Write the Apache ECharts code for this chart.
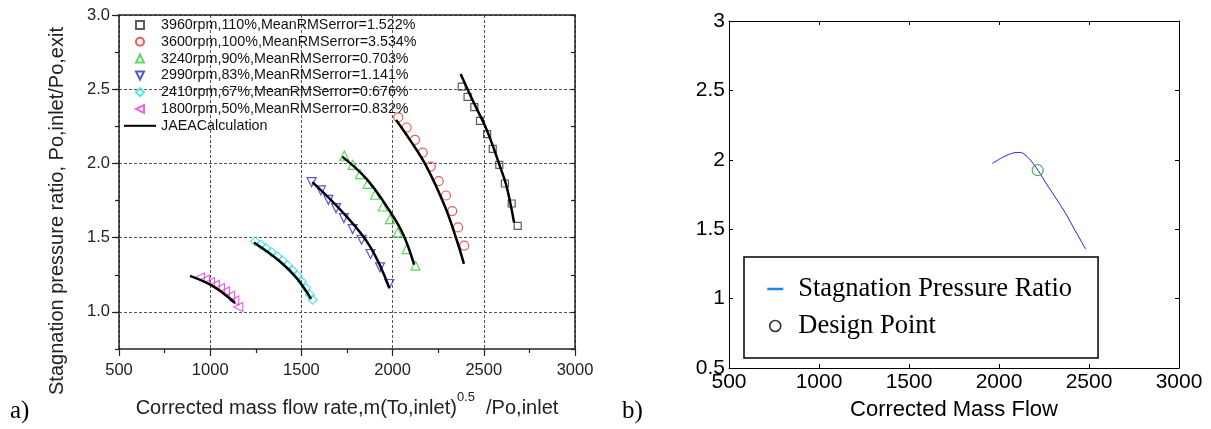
<!DOCTYPE html>
<html><head><meta charset="utf-8">
<script src="https://cdn.jsdelivr.net/npm/echarts@6/dist/echarts.min.js"></script>
<style>html,body{margin:0;padding:0;background:#fff}#c{width:1211px;height:429px}</style>
</head><body><div id="c"></div>
<script>
// ---------- data ----------
const yLabelsA = [1.0, 1.5, 2.0, 2.5, 3.0];
const names = [
  '3960rpm,110%,MeanRMSerror=1.522%',
  '3600rpm,100%,MeanRMSerror=3.534%',
  '3240rpm,90%,MeanRMSerror=0.703%',
  '2990rpm,83%,MeanRMSerror=1.141%',
  '2410rpm,67%,MeanRMSerror=0.676%',
  '1800rpm,50%,MeanRMSerror=0.832%'
];
const calcName = 'JAEACalculation';
const exp3960 = [[2379,2.517],[2411,2.448],[2448,2.379],[2479,2.287],[2518,2.197],[2549,2.098],[2585,1.991],[2616,1.865],[2653,1.730],[2686,1.580]];
const exp3600 = [[2031,2.311],[2077,2.242],[2123,2.159],[2165,2.073],[2209,1.979],[2253,1.881],[2293,1.784],[2327,1.679],[2359,1.569],[2393,1.447]];
const exp3240 = [[1735,2.053],[1781,1.991],[1821,1.928],[1863,1.863],[1904,1.789],[1946,1.710],[1986,1.625],[2028,1.535],[2077,1.423],[2126,1.311]];
const exp2990 = [[1556,1.874],[1607,1.818],[1648,1.755],[1690,1.699],[1733,1.632],[1781,1.558],[1830,1.486],[1879,1.390],[1931,1.300],[1982,1.188]];
const exp2410 = [[1246,1.475],[1277,1.452],[1306,1.430],[1337,1.403],[1368,1.374],[1397,1.345],[1425,1.313],[1452,1.279],[1478,1.244],[1502,1.205],[1525,1.161],[1547,1.116],[1562,1.082]];
const exp1800 = [[944,1.232],[971,1.217],[999,1.201],[1026,1.183],[1054,1.161],[1081,1.138],[1109,1.109],[1132,1.077],[1154,1.033]];
const calc3960 = [[2373,2.603],[2442,2.417],[2516,2.226],[2589,1.979],[2625,1.845],[2666,1.602]];
const calc3600 = [[2019,2.293],[2095,2.159],[2186,1.979],[2287,1.710],[2351,1.486],[2391,1.324]];
const calc3240 = [[1724,2.046],[1858,1.894],[1986,1.676],[2059,1.520],[2118,1.318]];
const calc2990 = [[1560,1.874],[1730,1.666],[1876,1.441],[1982,1.161]];
const calc2410 = [[1240,1.468],[1383,1.340],[1474,1.228],[1553,1.087]];
const calc1800 = [[889,1.243],[1017,1.172],[1136,1.060]];
// right chart
const flowX = [1962,2027,2082,2119,2166,2216,2268,2323,2370,2416,2453,2481];
const flowY = [1.974,2.022,2.050,2.053,2.010,1.926,1.818,1.710,1.614,1.506,1.422,1.357];
const designPoint = [2215, 1.925];

// ---------- styles ----------
const downTri = 'path://M0,0L10,0L5,10Z';
const leftTri = 'path://M0,5L10,0L10,10Z';
const expStyles = [
  {symbol:'rect', size:7, color:'#333'},
  {symbol:'circle', size:9, color:'#e83030'},
  {symbol:'triangle', size:9, color:'#33cc33'},
  {symbol:downTri, size:9, color:'#2a2ad0'},
  {symbol:'diamond', size:9, color:'#30dede'},
  {symbol:leftTri, size:9, color:'#e040e0'}
];
const expData = [exp3960, exp3600, exp3240, exp2990, exp2410, exp1800];
const calcData = [calc3960, calc3600, calc3240, calc2990, calc2410, calc1800];

const sans = 'Liberation Sans, Arial, sans-serif';
const serif = 'Liberation Serif, Times New Roman, serif';
const plain = v => String(v);

const series = [];
expData.forEach((d, i) => {
  const s = expStyles[i];
  series.push({
    name: names[i], type: 'scatter', xAxisIndex: 0, yAxisIndex: 0,
    data: d, symbol: s.symbol, symbolSize: s.size,
    itemStyle: {color: 'rgba(255,255,255,0)', borderColor: s.color, borderWidth: 1.2},
    z: 3
  });
});
calcData.forEach(d => {
  series.push({
    name: calcName, type: 'line', xAxisIndex: 0, yAxisIndex: 0,
    data: d, smooth: 0.4, symbol: 'none', showSymbol: false,
    lineStyle: {color: '#000', width: 2.5}, itemStyle: {color: '#000'}, z: 4
  });
});
series.push({
  name: 'Stagnation Pressure Ratio', type: 'line', xAxisIndex: 2, yAxisIndex: 3,
  data: flowX.map((x, i) => [x, flowY[i]]), smooth: 0.3, symbol: 'none', showSymbol: false,
  lineStyle: {color: '#2020f0', width: 1}, itemStyle: {color: '#2020f0'}
});
series.push({
  name: 'Design Point', type: 'scatter', xAxisIndex: 2, yAxisIndex: 3,
  data: [designPoint], symbol: 'circle', symbolSize: 11,
  itemStyle: {color: 'rgba(255,255,255,0)', borderColor: '#2a9a2a', borderWidth: 1.2}, z: 5
});

const gridDash = {color: '#555', type: [3, 2], width: 1};
const blackLine = {lineStyle: {color: '#222', width: 1.5}};

const option = {
  animation: false,
  backgroundColor: '#fff',
  grid: [
    {left: 119, top: 15, width: 456, height: 334},
    {left: 729, top: 21, width: 450, height: 347}
  ],
  xAxis: [
    {gridIndex: 0, type: 'value', min: 500, max: 3000, interval: 500, position: 'bottom',
     axisLine: blackLine,
     axisTick: {show: true, inside: false, length: 7, lineStyle: {color: '#222', width: 1.2}},
     minorTick: {show: true, splitNumber: 2, length: 4, lineStyle: {color: '#222', width: 1.2}},
     axisLabel: {margin: 13, fontSize: 16.5, color: '#222', fontFamily: sans, formatter: plain},
     splitLine: {show: true, lineStyle: gridDash},
     name: '{m|Corrected mass flow rate,m(To,inlet)}{s|0.5}{m|  /Po,inlet}',
     nameLocation: 'middle', nameGap: 42,
     nameTextStyle: {fontFamily: sans, color: '#222',
       rich: {m: {fontSize: 20, fontFamily: sans, color: '#222', lineHeight: 27, verticalAlign: 'bottom'},
              s: {fontSize: 13, fontFamily: sans, color: '#222', lineHeight: 15, verticalAlign: 'top'}}}
    },
    {gridIndex: 0, type: 'value', min: 500, max: 3000, interval: 500, position: 'top',
     axisLine: blackLine, axisTick: {show: false}, axisLabel: {show: false}, splitLine: {show: false}},
    {gridIndex: 1, type: 'value', min: 500, max: 3000, interval: 500, position: 'bottom',
     axisLine: {lineStyle: {color: '#000', width: 1}},
     axisTick: {show: true, inside: true, length: 4, lineStyle: {color: '#000'}},
     axisLabel: {margin: 4, fontSize: 21, color: '#000', fontFamily: sans, formatter: plain},
     splitLine: {show: false},
     name: 'Corrected Mass Flow', nameLocation: 'middle', nameGap: 31,
     nameTextStyle: {fontSize: 22, color: '#000', fontFamily: sans}
    },
    {gridIndex: 1, type: 'value', min: 500, max: 3000, interval: 500, position: 'top',
     axisLine: {lineStyle: {color: '#000', width: 1}},
     axisTick: {show: true, inside: true, length: 4, lineStyle: {color: '#000'}},
     axisLabel: {show: false}, splitLine: {show: false}}
  ],
  yAxis: [
    {gridIndex: 0, type: 'value', min: 0.75, max: 3.0, interval: 0.25, position: 'left',
     axisLine: blackLine,
     axisTick: {show: true, inside: false, length: 7, customValues: yLabelsA, lineStyle: {color: '#222', width: 1.2}},
     axisLabel: {margin: 9, fontSize: 16.5, color: '#222', fontFamily: sans, customValues: yLabelsA,
                 formatter: v => Number(v).toFixed(1)},
     splitLine: {show: true, lineStyle: gridDash}
    },
    {gridIndex: 0, type: 'value', min: 0.75, max: 3.0, interval: 0.25, position: 'left', offset: 0,
     axisLine: {show: false},
     axisTick: {show: true, inside: false, length: 4, lineStyle: {color: '#222', width: 1.2}},
     axisLabel: {show: false}, splitLine: {show: false}},
    {gridIndex: 0, type: 'value', min: 0.75, max: 3.0, interval: 0.25, position: 'right',
     axisLine: blackLine,
     axisTick: {show: true, inside: true, length: 4, lineStyle: {color: '#222', width: 1.2}},
     axisLabel: {show: false}, splitLine: {show: false}},
    {gridIndex: 1, type: 'value', min: 0.5, max: 3.0, interval: 0.5, position: 'left',
     axisLine: {lineStyle: {color: '#000', width: 1}},
     axisTick: {show: true, inside: true, length: 4, lineStyle: {color: '#000'}},
     axisLabel: {margin: 4, fontSize: 21, color: '#000', fontFamily: sans, formatter: plain},
     splitLine: {show: false}},
    {gridIndex: 1, type: 'value', min: 0.5, max: 3.0, interval: 0.5, position: 'right',
     axisLine: {lineStyle: {color: '#000', width: 1}},
     axisTick: {show: true, inside: true, length: 4, lineStyle: {color: '#000'}},
     axisLabel: {show: false}, splitLine: {show: false}}
  ],
  legend: [
    {data: names, orient: 'vertical', left: 135, top: 17, padding: 0,
     itemWidth: 8, itemHeight: 8, itemGap: 0.8,
     textStyle: {fontSize: 14.3, lineHeight: 16, color: '#111', fontFamily: sans, padding: [0, 0, 0, 12]},
     selectedMode: false},
    {data: [{name: calcName, itemStyle: {opacity: 0}}], orient: 'vertical', left: 123, top: 117.8, padding: 0,
     itemWidth: 32, itemHeight: 8,
     textStyle: {fontSize: 14.3, lineHeight: 16, color: '#111', fontFamily: sans},
     selectedMode: false},
    {data: [
       {name: 'Stagnation Pressure Ratio', lineStyle: {color: '#1e88e5', width: 2.5}, itemStyle: {opacity: 0}},
       {name: 'Design Point', icon: 'circle', itemStyle: {color: '#fff', borderColor: '#000', borderWidth: 1.6}}
     ],
     orient: 'vertical', left: 744, top: 257, padding: [17, 26, 17, 22],
     itemWidth: 16, itemHeight: 11, itemGap: 7,
     borderColor: '#000', borderWidth: 1.5, backgroundColor: '#fff',
     textStyle: {fontSize: 26.5, lineHeight: 30, color: '#000', fontFamily: serif, padding: [0, 0, 0, 10]},
     selectedMode: false}
  ],
  graphic: [
    {type: 'text', x: 57, y: 211, rotation: Math.PI / 2,
     style: {text: 'Stagnation pressure ratio, Po,inlet/Po,exit', fontSize: 20, fontFamily: sans, fill: '#222',
             textAlign: 'center', textVerticalAlign: 'middle', align: 'center', verticalAlign: 'middle'}},
    {type: 'text', x: 10, y: 411,
     style: {text: 'a)', fontSize: 25, fontFamily: serif, fill: '#000', textVerticalAlign: 'middle', verticalAlign: 'middle'}},
    {type: 'text', x: 622, y: 411,
     style: {text: 'b)', fontSize: 25, fontFamily: serif, fill: '#000', textVerticalAlign: 'middle', verticalAlign: 'middle'}}
  ],
  series: series
};
const chart = echarts.init(document.getElementById('c'), null, {renderer: 'canvas'});
chart.setOption(option);
</script>
</body></html>
